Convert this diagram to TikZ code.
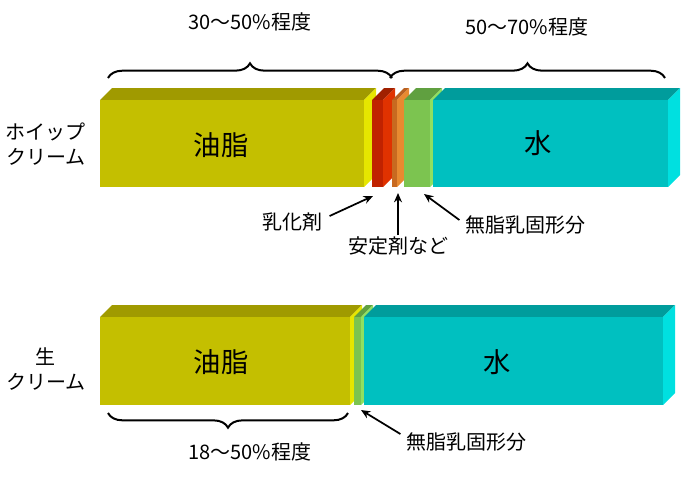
\documentclass[tikz,border=0pt]{standalone}
\usepackage{fontspec}
\setmainfont{Noto Sans CJK JP}
\usetikzlibrary{decorations.pathreplacing,arrows.meta}
\definecolor{yf}{HTML}{C4BF00}\definecolor{ys}{HTML}{E6E600}\definecolor{yt}{HTML}{A09A00}
\definecolor{rf}{HTML}{C02200}\definecolor{rs}{HTML}{E03200}\definecolor{rt}{HTML}{A02000}
\definecolor{of}{HTML}{C86A20}\definecolor{os}{HTML}{E88A30}\definecolor{ot}{HTML}{B86020}
\definecolor{gf}{HTML}{7CC450}\definecolor{gs}{HTML}{90E060}\definecolor{gt}{HTML}{60A040}
\definecolor{tf}{HTML}{00C0C0}\definecolor{ts}{HTML}{00E0E0}\definecolor{tt}{HTML}{009C9C}
\newcommand{\mybox}[7]{% x1 x2 ytop ybot front side top
 \fill[#7] (#1,#3) -- ++(12,-12) -- (#2+12,#3-12) -- (#2,#3) -- cycle;
 \fill[#6] (#2,#3) -- (#2+12,#3-12) -- (#2+12,#4-12) -- (#2,#4) -- cycle;
 \fill[#5] (#1,#3) rectangle (#2,#4);}
\begin{document}
\begin{tikzpicture}[x=0.75pt,y=-0.75pt,
 lab/.style={font=\fontsize{15}{19}\selectfont, inner sep=1pt},
 big/.style={font=\fontsize{20.5}{24}\selectfont},
 br/.style={decorate,decoration={brace,amplitude=11pt},line width=1.5pt},
 arr/.style={-{Stealth[length=7pt,width=6pt]},line width=1.3pt}]
\useasboundingbox (0,0) rectangle (700,480);
\mybox{100}{364}{100}{187}{yf}{ys}{yt}
\mybox{372}{383}{100}{187}{rf}{rs}{rt}
\mybox{392}{397}{100}{187}{of}{os}{ot}
\mybox{404}{430}{100}{187}{gf}{gs}{gt}
\mybox{433}{668}{100}{187}{tf}{ts}{tt}
\mybox{100}{350}{317}{405}{yf}{ys}{yt}
\mybox{354}{361}{317}{405}{gf}{gs}{gt}
\mybox{364}{663}{317}{405}{tf}{ts}{tt}
\node[big] (o1) at (221,145) {油脂};
\node[big] (w1) at (538,143) {水};
\node[big] (o2) at (221,362) {油脂};
\node[big] (w2) at (497,362) {水};
\node[lab,align=center] (l1) at (46,144) {ホイップ\\クリーム};
\node[lab,align=center] (l2) at (46,369) {生\\クリーム};
\coordinate (b1a) at (108,78); \coordinate (b1b) at (392,78);
\coordinate (b2a) at (390,78); \coordinate (b2b) at (665,78);
\coordinate (b3a) at (348,413); \coordinate (b3b) at (108,413);
\draw[br] (b1a) -- (b1b);
\draw[br] (b2a) -- (b2b);
\draw[br] (b3a) -- (b3b);
\node[lab] (t1) at (250,22) {30〜50\%程度};
\node[lab] (t2) at (527,27) {50〜70\%程度};
\node[lab] (t3) at (250,452) {18〜50\%程度};
\node[lab] (e) at (292,222) {乳化剤};
\node[lab] (s) at (398,246) {安定剤など};
\node[lab] (m1) at (525,225) {無脂乳固形分};
\node[lab] (m2) at (466,442) {無脂乳固形分};
\coordinate (pe) at (373,196); \coordinate (ps) at (398,193);
\coordinate (pm1) at (424,194); \coordinate (pm2) at (361,410);
\draw[arr] (e.east)++(6,-6) -- (pe);
\draw[arr] (s.north) -- (ps);
\draw[arr] (m1.west)++(-4,-5) -- (pm1);
\draw[arr] (m2.west)++(-4,-8) -- (pm2);
\end{tikzpicture}
\end{document}
